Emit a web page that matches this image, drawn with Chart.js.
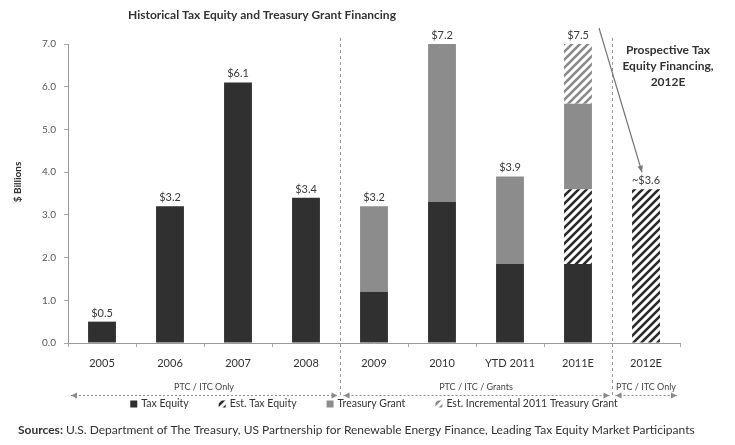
<!DOCTYPE html>
<html lang="en">
<head>
<meta charset="UTF-8">
<title>Historical Tax Equity and Treasury Grant Financing</title>
<script src="https://cdn.jsdelivr.net/npm/chart.js"></script>
<style>
    * { margin: 0; padding: 0; box-sizing: border-box; }
    body { width: 735px; height: 445px; background: #fff; overflow: hidden; }
    .wrap { position: relative; width: 735px; height: 445px; }
</style>
</head>
<body>
<div class="wrap"><canvas id="taxChart"></canvas></div>
<script>
// values in $ billions
const categories = ['2005', '2006', '2007', '2008', '2009', '2010', 'YTD 2011', '2011E', '2012E'];
const taxEquity = [0.5, 3.2, 6.1, 3.4, 1.2, 3.3, 1.85, 1.85, 0];
const estTaxEquity = [0, 0, 0, 0, 0, 0, 0, 1.75, 3.6];
const treasuryGrant = [0, 0, 0, 0, 2.0, 3.9, 2.05, 2.0, 0];
const estIncrementalGrant = [0, 0, 0, 0, 0, 0, 0, 1.9, 0];
const totalLabels = ['$0.5', '$3.2', '$6.1', '$3.4', '$3.2', '$7.2', '$3.9', '$7.5', '~$3.6'];
const yMin = 0, yMax = 7, yStep = 1;
const groups = [
    { label: 'PTC / ITC Only', from: 0, to: 3 },
    { label: 'PTC / ITC / Grants', from: 4, to: 7 },
    { label: 'PTC / ITC Only', from: 8, to: 8 }
];
const legendLabels = ['Tax Equity', 'Est. Tax Equity', 'Treasury Grant', 'Est. Incremental 2011 Treasury Grant'];
const annotationLines = ['Prospective Tax', 'Equity Financing,', '2012E'];
const chartTitle = 'Historical Tax Equity and Treasury Grant Financing';
const sourcesText = 'U.S. Department of The Treasury, US Partnership for Renewable Energy Finance, Leading Tax Equity Market Participants';

const FONT = 'Lato, "Open Sans", sans-serif';

function hatch(color, width) {
    const c = document.createElement('canvas');
    c.width = 8; c.height = 8;
    const g = c.getContext('2d');
    g.fillStyle = '#fff';
    g.fillRect(0, 0, 8, 8);
    g.strokeStyle = color;
    g.lineWidth = width;
    g.beginPath();
    g.moveTo(-2, 10); g.lineTo(10, -2);
    g.moveTo(-6, 6); g.lineTo(6, -6);
    g.moveTo(2, 14); g.lineTo(14, 2);
    g.stroke();
    return g.createPattern(c, 'repeat');
}

const colTax = '#303030';
const colEstTax = hatch('#2a2a2a', 2.6);
const colGrant = '#8c8c8c';
const colEstGrant = hatch('#8a8a8a', 2.6);
const legendColors = [colTax, colEstTax, colGrant, colEstGrant];

function catX(chart, i) {
    return chart.scales.x.getPixelForValue(i);
}

const overlay = {
    id: 'overlay',
    afterDatasetsDraw(chart) {
        const ctx = chart.ctx, y = chart.scales.y, area = chart.chartArea;
        ctx.save();
        ctx.font = '11px ' + FONT;
        ctx.fillStyle = '#3a3a3a';
        ctx.textAlign = 'center';
        ctx.textBaseline = 'bottom';
        categories.forEach((c, i) => {
            const total = taxEquity[i] + estTaxEquity[i] + treasuryGrant[i] + estIncrementalGrant[i];
            const top = Math.max(y.getPixelForValue(total), area.top);
            ctx.fillText(totalLabels[i], catX(chart, i), top - 3);
        });
        ctx.restore();
    },
    afterDraw(chart) {
        const ctx = chart.ctx, area = chart.chartArea, y = chart.scales.y;
        ctx.save();

        // title
        ctx.font = 'bold 12px ' + FONT;
        ctx.fillStyle = '#333';
        ctx.textAlign = 'center';
        ctx.textBaseline = 'middle';
        ctx.fillText(chartTitle, 262, 15);

        // y axis title
        ctx.save();
        ctx.translate(18, 182);
        ctx.rotate(-Math.PI / 2);
        ctx.font = 'bold 10px ' + FONT;
        ctx.fillText('$ Billions', 0, 0);
        ctx.restore();

        // dashed separators between groups
        ctx.strokeStyle = '#999';
        ctx.lineWidth = 1;
        ctx.setLineDash([3, 3]);
        const seps = [];
        for (let g = 0; g < groups.length - 1; g++) {
            const sx = Math.round((catX(chart, groups[g].to) + catX(chart, groups[g + 1].from)) / 2) + 0.5;
            seps.push(sx);
            ctx.beginPath();
            ctx.moveTo(sx, area.top - 6);
            ctx.lineTo(sx, 398);
            ctx.stroke();
        }

        // group labels with double arrows
        const bounds = [area.left].concat(seps).concat([area.right]);
        ctx.font = '9px ' + FONT;
        ctx.fillStyle = '#444';
        ctx.textBaseline = 'middle';
        groups.forEach((g, k) => {
            const cx = (catX(chart, g.from) + catX(chart, g.to)) / 2;
            ctx.fillText(g.label, cx, 387);
            const x0 = bounds[k] + 3, x1 = bounds[k + 1] - 3, ay = 395.5;
            ctx.setLineDash([2, 2]);
            ctx.strokeStyle = '#8a8a8a';
            ctx.beginPath();
            ctx.moveTo(x0, ay); ctx.lineTo(x1, ay);
            ctx.stroke();
            ctx.setLineDash([]);
            ctx.fillStyle = '#8a8a8a';
            ctx.beginPath();
            ctx.moveTo(x0, ay); ctx.lineTo(x0 + 6, ay - 3); ctx.lineTo(x0 + 6, ay + 3); ctx.closePath();
            ctx.moveTo(x1, ay); ctx.lineTo(x1 - 6, ay - 3); ctx.lineTo(x1 - 6, ay + 3); ctx.closePath();
            ctx.fill();
            ctx.fillStyle = '#444';
        });

        // annotation + arrow
        ctx.font = 'bold 12px ' + FONT;
        ctx.fillStyle = '#333';
        annotationLines.forEach((t, k) => ctx.fillText(t, 668, 50 + k * 16));
        const ax0 = catX(chart, 7) + 21, ay0 = area.top - 16;
        const ax1 = catX(chart, 8) - 4, ay1 = y.getPixelForValue(3.6) - 17;
        ctx.strokeStyle = '#777';
        ctx.lineWidth = 1.2;
        ctx.beginPath();
        ctx.moveTo(ax0, ay0); ctx.lineTo(ax1, ay1);
        ctx.stroke();
        const ang = Math.atan2(ay1 - ay0, ax1 - ax0);
        ctx.fillStyle = '#777';
        ctx.beginPath();
        ctx.moveTo(ax1, ay1);
        ctx.lineTo(ax1 - 7 * Math.cos(ang - 0.4), ay1 - 7 * Math.sin(ang - 0.4));
        ctx.lineTo(ax1 - 7 * Math.cos(ang + 0.4), ay1 - 7 * Math.sin(ang + 0.4));
        ctx.closePath();
        ctx.fill();

        // legend
        ctx.font = '10.5px ' + FONT;
        ctx.textAlign = 'left';
        const gap = 30, box = 7;
        let total = 0;
        const widths = legendLabels.map(t => ctx.measureText(t).width + box + 4);
        widths.forEach(w => total += w);
        total += gap * (widths.length - 1);
        let lx = 374 - total / 2;
        const ly = 404;
        legendLabels.forEach((t, k) => {
            ctx.fillStyle = legendColors[k];
            ctx.fillRect(lx, ly - box / 2, box, box);
            ctx.fillStyle = '#333';
            ctx.fillText(t, lx + box + 4, ly);
            lx += widths[k] + gap;
        });

        // sources
        ctx.font = 'bold 12px ' + FONT;
        ctx.fillStyle = '#333';
        ctx.fillText('Sources:', 18, 430);
        const sw = ctx.measureText('Sources: ').width;
        ctx.font = '12px ' + FONT;
        ctx.fillText(sourcesText, 18 + sw, 430);

        ctx.restore();
    }
};

new Chart(document.getElementById('taxChart'), {
    type: 'bar',
    data: {
        labels: categories,
        datasets: [
            { label: legendLabels[0], data: taxEquity, backgroundColor: colTax },
            { label: legendLabels[1], data: estTaxEquity, backgroundColor: colEstTax },
            { label: legendLabels[2], data: treasuryGrant, backgroundColor: colGrant },
            { label: legendLabels[3], data: estIncrementalGrant, backgroundColor: colEstGrant }
        ]
    },
    options: {
        responsive: true,
        maintainAspectRatio: false,
        animation: false,
        layout: { padding: { top: 44, right: 55, left: 0, bottom: 0 } },
        datasets: { bar: { clip: 0, barPercentage: 0.41, categoryPercentage: 1.0, borderWidth: 0 } },
        plugins: {
            legend: { display: false },
            title: { display: false },
            tooltip: { enabled: false }
        },
        scales: {
            x: {
                stacked: true,
                afterFit: s => { s.height = 102; },
                grid: { drawOnChartArea: false, offset: true, tickLength: 4, color: '#aaa' },
                border: { color: '#999', dash: [2, 2] },
                ticks: { color: '#333', font: { family: FONT, size: 11 }, padding: 10, maxRotation: 0 }
            },
            y: {
                stacked: true,
                min: yMin,
                max: yMax,
                afterFit: s => { s.width = 68; },
                grid: { drawOnChartArea: false, tickLength: 4, color: '#aaa' },
                border: { color: '#999', dash: [2, 2] },
                ticks: { stepSize: yStep, color: '#555', font: { family: FONT, size: 10 }, padding: 8,
                         callback: v => v.toFixed(1) }
            }
        }
    },
    plugins: [overlay]
});
</script>
</body>
</html>
